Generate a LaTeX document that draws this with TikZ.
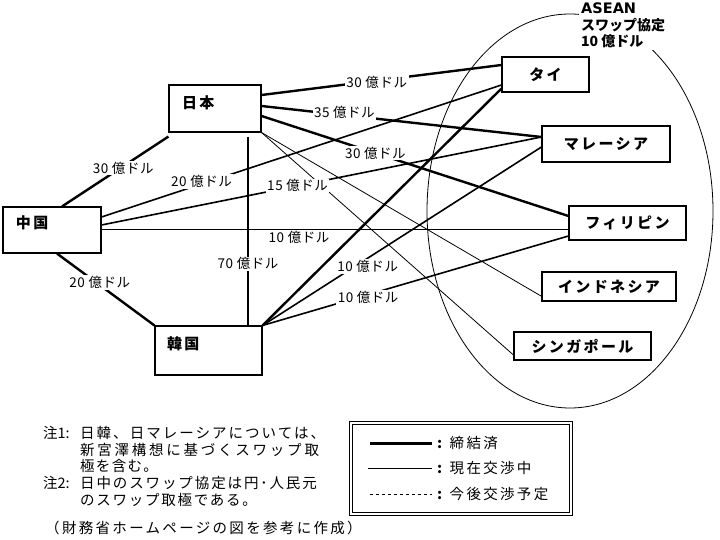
\documentclass[tikz,border=0pt]{standalone}
\usepackage{fontspec}
\setmainfont{Noto Sans CJK JP}
\newfontfamily\boxfont[LetterSpace=16]{Noto Sans CJK JP}
\newfontfamily\widefont[LetterSpace=16]{Noto Sans CJK JP}
\newfontfamily\lblfont[LetterSpace=4]{Noto Sans CJK JP}
\newfontfamily\latinfont{DejaVu Sans}
\newcommand\spacedline[2]{{\addfontfeatures{LetterSpace=#1}#2}}
\begin{document}
\begin{tikzpicture}[x=1pt,y=-1pt,
  cbox/.style={draw, line width=1.1pt, inner sep=0pt, font=\boxfont\bfseries\fontsize{15pt}{17pt}\selectfont},
  thk/.style={line width=2.4pt},
  med/.style={line width=1.6pt},
  thn/.style={line width=0.8pt},
  amt/.style={fill=white, inner xsep=1.5pt, inner ysep=1pt, font=\lblfont\fontsize{13.5pt}{15pt}\selectfont},
  legtxt/.style={anchor=west, inner sep=0pt, font=\widefont\fontsize{14.5pt}{16pt}\selectfont}]
\fill[white] (0,0) rectangle (720,540);
\useasboundingbox (0,0) rectangle (720,540);

% ASEAN ellipse
\draw[thn] (570,211) ellipse [x radius=143pt, y radius=197pt];

% country boxes
\node[cbox, minimum width=92pt, minimum height=47pt, text width=66pt, inner xsep=13pt, align=left] (jp) at (215,108.5) {\raisebox{0pt}[0pt][0pt]{日本}};
\node[cbox, minimum width=98pt, minimum height=46pt, text width=72pt, inner xsep=13pt, align=left] (cn) at (52,230) {\raisebox{1.5pt}[0pt][0pt]{中国}};
\node[cbox, minimum width=107pt, minimum height=49pt, text width=83pt, inner xsep=12pt, align=left] (kr) at (208.5,350.5) {\raisebox{1.5pt}[0pt][0pt]{韓国}};
\node[cbox, minimum width=87pt, minimum height=35pt] (th) at (545.5,74.5) {タイ};
\node[cbox, minimum width=128pt, minimum height=36pt] (my) at (606,144) {マレーシア};
\node[cbox, minimum width=117pt, minimum height=34pt] (ph) at (627.5,223) {フィリピン};
\node[cbox, line width=2pt, minimum width=134pt, minimum height=29pt] (id) at (609,286.5) {インドネシア};
\node[cbox, minimum width=137pt, minimum height=28pt] (sg) at (582.5,346) {シンガポール};

% thin connectors
\draw[thn] (jp.south east) -- ([yshift=-9pt]sg.west);
\draw[thn] (jp.south east) -- ([yshift=-9.5pt]id.west);
\draw[thn] ([yshift=1pt]cn.east) -- node[pos=0.423, below=1pt, amt, fill=none] (l10a) {10 億ドル} ([yshift=-6pt]ph.west);

% medium connectors
\draw[med] ([yshift=13pt]cn.east) -- node[amt, pos=0.25, yshift=2.5pt] (l20b) {20 億ドル} ([yshift=-10.5pt]th.west);
\draw[med] ([yshift=5pt]cn.east) -- node[amt, pos=0.4456] (l15) {15 億ドル} ([yshift=7pt]my.west);
\draw[med] (kr.north east) -- node[amt, pos=0.377, yshift=-8.5pt] (l10b) {10 億ドル} ([yshift=-3pt]my.west);
\draw[med] (kr.north east) -- node[amt, pos=0.345, yshift=-3pt] (l10c) {10 億ドル} ([yshift=-13pt]ph.west);

% thick connectors
\draw[thk] ([yshift=13.5pt]jp.east) -- node[amt, pos=0.48, yshift=-2pt] (l30a) {30 億ドル} ([yshift=9.5pt]th.west);
\draw[thk] ([yshift=2.5pt]jp.east) -- node[amt, pos=0.296, yshift=2.5pt] (l35) {35 億ドル} ([yshift=7pt]my.west);
\draw[thk] ([yshift=-7.5pt]jp.east) -- node[amt, pos=0.371] (l30b) {30 億ドル} ([yshift=7pt]ph.west);
\draw[line width=2.8pt] ([xshift=33pt,yshift=-4pt]jp.south) -- node[amt, pos=0.674] (l70) {70 億ドル} ([xshift=39.5pt]kr.north);
\draw[thk] ([xshift=10pt]cn.north) -- node[amt, pos=0.575, yshift=-2pt] (l30c) {30 億ドル} ([yshift=-4pt]jp.south west);
\draw[thk] ([xshift=5pt]cn.south) -- node[amt, pos=0.439, yshift=2.5pt] (l20a) {20 億ドル} (kr.north west);
\draw[thk] (kr.north east) -- ([yshift=4pt]th.south west);

% ASEAN label
\node[anchor=north west, fill=white, inner sep=2pt, align=left, font=\bfseries\fontsize{14pt}{16.5pt}\selectfont] (asean) at (579,1) {{\latinfont\bfseries\fontsize{14.5pt}{16.5pt}\selectfont ASEAN}\\スワップ協定\\10 億ドル};

% notes
\node[anchor=north west, inner sep=0pt, align=left, font=\fontsize{14.5pt}{16.75pt}\selectfont] (notes) at (43,426) {\makebox[37pt][l]{注1:}\spacedline{14}{日韓、日マレーシアについては、}\\
\hspace*{37pt}\spacedline{19}{新宮澤構想に基づくスワップ取}\\
\hspace*{37pt}\spacedline{9}{極を含む。}\\
\makebox[37pt][l]{注2:}\spacedline{13}{日中のスワップ協定は円･人民元}\\
\hspace*{37pt}\spacedline{12}{のスワップ取極である。}};

% legend
\draw[line width=0.9pt] (349,421) rectangle (572,515);
\draw[line width=0.9pt] (352,424) rectangle (569,512);
\draw[line width=3pt] (370,443) -- (432,443);
\draw[line width=0.9pt] (368,468) -- (432,468);
\draw[line width=0.8pt, dash pattern=on 3pt off 3pt] (370,494) -- (432,494);
\node[legtxt] (lg1) at (437,443) {{\bfseries :} 締結済};
\node[legtxt] (lg2) at (437,468) {{\bfseries :} 現在交渉中};
\node[legtxt] (lg3) at (437,494) {{\bfseries :} 今後交渉予定};

% source
\node[anchor=west, inner sep=0pt, font=\widefont\fontsize{14.5pt}{16pt}\selectfont] (src) at (45,528) {（財務省ホームページの図を参考に作成）};
\end{tikzpicture}
\end{document}
